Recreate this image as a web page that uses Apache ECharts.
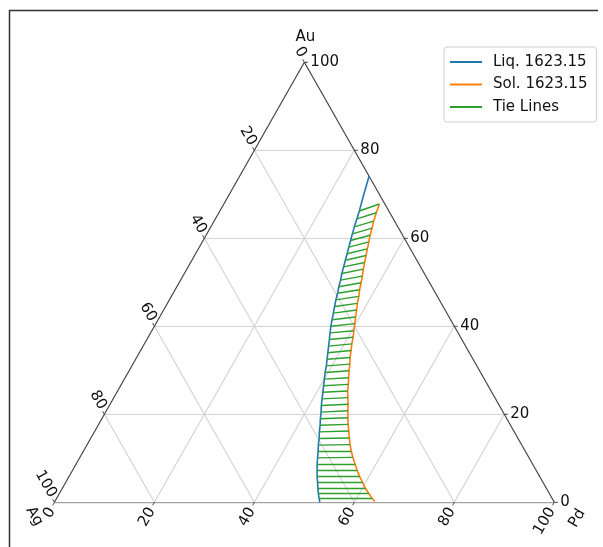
<!DOCTYPE html>
<html>
<head>
<meta charset="utf-8">
<script src="https://cdn.jsdelivr.net/npm/echarts@6/dist/echarts.min.js"></script>
<style>
  html, body { margin: 0; padding: 0; background: #fff; }
  #chart { width: 603px; height: 547px; }
</style>
</head>
<body>
<div id="chart"></div>
<script>
// Ternary Ag–Pd–Au section at 1623.15 K (compositions in at.%)
const tickValues = [0, 20, 40, 60, 80, 100];
const gridValues = [20, 40, 60, 80];

// Tie-line end points: liquid side (Au, Pd) and solid side (Au, Pd)
const liqAu = [0.9, 2.0, 3.2, 4.5, 5.9, 7.3, 8.7, 10.1, 11.5, 13.0, 14.5, 16.0, 17.5, 19.0, 20.5,
  22.0, 23.5, 25.0, 26.5, 28.0, 29.5, 31.0, 32.5, 34.0, 35.5, 37.0, 38.5, 40.0, 41.5, 43.0,
  44.5, 46.0, 47.5, 49.0, 50.5, 52.0, 53.5, 55.0, 56.5, 58.0, 59.5, 61.0, 62.6, 64.4, 66.2];
const liqPd = [52.5, 51.8, 51.1, 50.4, 49.6, 48.9, 48.2, 47.6, 47.0, 46.3, 45.7, 45.0, 44.4, 43.7, 43.1,
  42.4, 41.8, 41.2, 40.6, 40.0, 39.4, 38.9, 38.3, 37.7, 37.1, 36.5, 35.9, 35.3, 34.8, 34.3,
  33.8, 33.3, 32.9, 32.4, 32.0, 31.5, 31.1, 30.7, 30.3, 29.9, 29.5, 29.1, 28.7, 28.3, 27.9];
const solAu = [0.9, 2.0, 3.2, 4.5, 5.9, 7.3, 8.7, 10.2, 11.6, 13.1, 14.6, 16.2, 17.7, 19.2, 20.8,
  22.3, 23.8, 25.3, 26.8, 28.3, 29.9, 31.4, 32.9, 34.5, 36.0, 37.5, 39.0, 40.6, 42.1, 43.7,
  45.2, 46.8, 48.3, 49.9, 51.4, 53.0, 54.5, 56.1, 57.6, 59.2, 60.7, 62.3, 63.9, 65.8, 67.8];
const solPd = [63.1, 61.9, 60.6, 59.4, 58.1, 56.9, 55.8, 54.6, 53.6, 52.6, 51.7, 50.8, 49.9, 49.1, 48.3,
  47.6, 46.8, 46.0, 45.4, 44.7, 44.0, 43.4, 42.7, 42.1, 41.5, 41.0, 40.4, 39.8, 39.2, 38.6,
  38.0, 37.5, 36.9, 36.4, 35.9, 35.3, 34.8, 34.3, 33.8, 33.3, 32.8, 32.4, 31.9, 31.5, 31.1];

// Extra boundary points beyond the tie-line range
const liqBottomAu = [0.0], liqBottomPd = [53.1];
const liqTopAu = [70.0, 74.1], liqTopPd = [26.9, 25.9];
const solBottomAu = [0.2], solBottomPd = [64.0];

const FONT = 'DejaVu Sans';
const C_LIQ = '#1f77b4', C_SOL = '#ff7f0e', C_TIE = '#2ca02c';

// (Pd, Au) -> plane coordinates of the triangle (Ag at origin, Pd at x=100, Au at top)
function tern(pd, au) { return [pd + au / 2, au]; }

const gridSegs = [];
gridValues.forEach(k => {
  gridSegs.push({ coords: [tern(0, k), tern(100 - k, k)] });       // constant Au
  gridSegs.push({ coords: [tern(k, 0), tern(k, 100 - k)] });       // constant Pd
  gridSegs.push({ coords: [tern(100 - k, 0), tern(0, 100 - k)] }); // constant Ag
});

const liqLine = [];
liqBottomAu.forEach((a, i) => liqLine.push(tern(liqBottomPd[i], a)));
liqAu.forEach((a, i) => liqLine.push(tern(liqPd[i], a)));
liqTopAu.forEach((a, i) => liqLine.push(tern(liqTopPd[i], a)));

const solLine = [];
solBottomAu.forEach((a, i) => solLine.push(tern(solBottomPd[i], a)));
solAu.forEach((a, i) => solLine.push(tern(solPd[i], a)));

const tieSegs = liqAu.map((a, i) => ({ coords: [tern(liqPd[i], a), tern(solPd[i], solAu[i])] }));

const chart = echarts.init(document.getElementById('chart'), null, { renderer: 'canvas' });

chart.setOption({
  animation: false,
  backgroundColor: '#fff',
  color: [C_LIQ, C_SOL, C_TIE],
  grid: { left: 54.4, right: 48.7, top: 62.3, bottom: 44.7 },
  xAxis: { type: 'value', min: 0, max: 100, show: false },
  yAxis: { type: 'value', min: 0, max: 100, show: false },
  legend: {
    data: ['Liq. 1623.15', 'Sol. 1623.15', 'Tie Lines'],
    orient: 'vertical',
    left: 444, top: 47,
    icon: 'rect',
    itemWidth: 32, itemHeight: 2, itemGap: 6.5,
    itemStyle: { borderWidth: 0 },
    padding: [7, 9, 7, 6],
    borderColor: '#d0d0d0', borderWidth: 1, borderRadius: 3,
    backgroundColor: '#fff',
    textStyle: { fontFamily: FONT, fontSize: 15, color: '#111', lineHeight: 16, padding: [0, 0, 0, 6] }
  },
  series: [
    {
      type: 'lines', coordinateSystem: 'cartesian2d', silent: true, z: 1,
      lineStyle: { color: '#d4d4d4', width: 1.2, opacity: 1 },
      data: gridSegs
    },
    {
      type: 'lines', coordinateSystem: 'cartesian2d', silent: true, z: 2,
      lineStyle: { color: '#a4a4a4', width: 2, opacity: 1 },
      data: [{ coords: [tern(0, 0), tern(100, 0)] }]
    },
    {
      type: 'lines', coordinateSystem: 'cartesian2d', silent: true, z: 2,
      lineStyle: { color: '#444', width: 1.2, opacity: 1 },
      data: [{ coords: [tern(0, 0), tern(0, 100)] }, { coords: [tern(100, 0), tern(0, 100)] }]
    },
    {
      name: 'Liq. 1623.15', type: 'line', z: 3,
      data: liqLine, showSymbol: false, symbol: 'none',
      lineStyle: { color: C_LIQ, width: 1.6 }, itemStyle: { color: C_LIQ }
    },
    {
      name: 'Sol. 1623.15', type: 'line', z: 3,
      data: solLine, showSymbol: false, symbol: 'none',
      lineStyle: { color: C_SOL, width: 1.6 }, itemStyle: { color: C_SOL }
    },
    {
      name: 'Tie Lines', type: 'lines', coordinateSystem: 'cartesian2d', z: 4,
      lineStyle: { color: C_TIE, width: 1.4, opacity: 1 }, itemStyle: { color: C_TIE },
      data: tieSegs
    }
  ]
});

// Axis ticks, tick labels, axis titles and figure frame
const px = (pd, au) => chart.convertToPixel({ gridIndex: 0 }, tern(pd, au));
const apex = px(0, 100), agV = px(0, 0), pdV = px(100, 0);
const norm = (v) => { const l = Math.hypot(v[0], v[1]); return [v[0] / l, v[1] / l]; };
const dirLeft = norm([apex[0] - agV[0], apex[1] - agV[1]]);   // Ag -> Au edge
const dirRight = norm([apex[0] - pdV[0], apex[1] - pdV[1]]);  // Pd -> Au edge
const TL = 3.5;
const g = [];
const txt = (x, y, s, rot, align, vAlign) => ({
  type: 'text', x, y, rotation: rot, silent: true, z: 10,
  style: { text: s, fontFamily: FONT, fontSize: 15, fill: '#111', align, verticalAlign: vAlign }
});
const seg = (a, b, color, w) => ({
  type: 'line', silent: true, z: 9,
  shape: { x1: a[0], y1: a[1], x2: b[0], y2: b[1] },
  style: { stroke: color, lineWidth: w }
});

tickValues.forEach(v => {
  // Au (right edge)
  const r = px(100 - v, v);
  g.push(seg(r, [r[0] + TL, r[1]], '#444', 1));
  g.push(txt(r[0] + 6, r[1], String(v), 0, 'left', 'middle'));
  // Pd (bottom edge)
  const b = px(v, 0);
  g.push(seg(b, [b[0] - dirLeft[0] * TL, b[1] - dirLeft[1] * TL], '#444', 1));
  g.push(txt(b[0] - 2.5, b[1] + 6.5, String(v), Math.PI / 3, 'right', 'middle'));
  // Ag (left edge)
  const l = px(0, 100 - v);
  g.push(seg(l, [l[0] + dirRight[0] * TL, l[1] + dirRight[1] * TL], '#444', 1));
  g.push(txt(l[0] - 1.5, l[1] - 6, String(v), -Math.PI / 3, 'right', 'middle'));
});

g.push(txt(apex[0] + 1, apex[1] - 25, 'Au', 0, 'center', 'middle'));
g.push(txt(agV[0] - 20, agV[1] + 14, 'Ag', -Math.PI / 3, 'center', 'middle'));
g.push(txt(pdV[0] + 23, pdV[1] + 16, 'Pd', Math.PI / 3, 'center', 'middle'));

g.push({ type: 'polyline', silent: true, z: 20,
  shape: { points: [[9.5, 547], [9.5, 10.5], [598, 10.5]] },
  style: { stroke: '#333', lineWidth: 1.5, fill: null } });

chart.setOption({ graphic: g });
</script>
</body>
</html>
